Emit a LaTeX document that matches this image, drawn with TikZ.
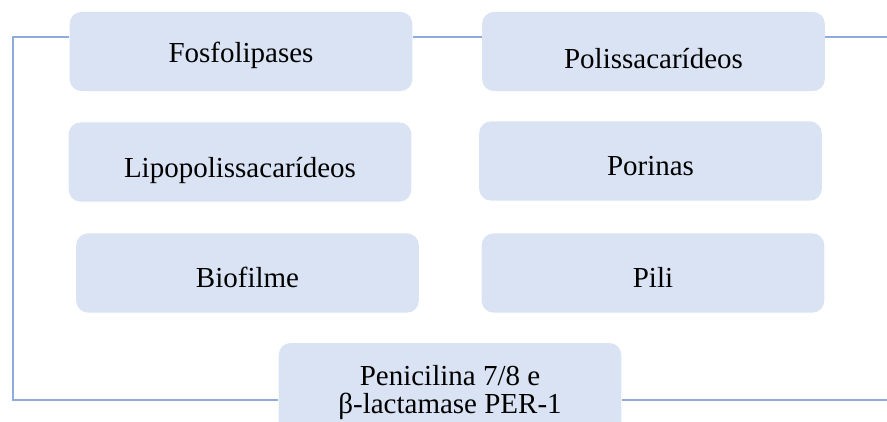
\documentclass[tikz,border=0pt]{standalone}
\usepackage{fontspec}
\setmainfont{Liberation Serif}
\usetikzlibrary{positioning}
\definecolor{boxfill}{HTML}{DAE3F3}
\definecolor{framecol}{HTML}{8FAADC}
\tikzset{box/.style={rectangle,fill=boxfill,rounded corners=9pt,align=center,inner sep=0pt,minimum width=257pt,minimum height=59.5pt,text height=21pt,text depth=0pt,font=\fontsize{21.75}{21}\selectfont},frame/.style={draw=framecol,line width=1.6pt}}

\begin{document}
\begin{tikzpicture}[x=0.75pt,y=-0.75pt]
\useasboundingbox (0,0) rectangle (887,421);
\clip (0,0) rectangle (887,421);
\node[box, text height=15.75pt] (fos) at (241,51.5) {Fosfolipases};
\node[box, text height=24.75pt] (pol) at (653.5,51.5) {Polissacarídeos};
\node[box, text height=22.5pt] (lps) at (240,162) {Lipopolissacarídeos};
\node[box] (por) at (650.5,161) {Porinas};
\node[box] (bio) at (247.5,273) {Biofilme};
\node[box] (pil) at (653,273) {Pili};
\node[box, minimum height=72pt, text height=33pt] (pen) at (450,391) {Penicilina 7/8 e\\β-lactamase PER-1};
\coordinate (tl) at (13,37);
\coordinate (bl) at (13,400);
\coordinate (tr) at (887,37);
\coordinate (br) at (887,400);
\draw[frame] (fos.west |- tl) -- (tl) -- (bl) -- (pen.west |- bl);
\draw[frame] (pen.east |- bl) -- (br);
\draw[frame] (fos.east |- tl) -- (pol.west |- tl);
\draw[frame] (pol.east |- tl) -- (tr);
\end{tikzpicture}
\end{document}
